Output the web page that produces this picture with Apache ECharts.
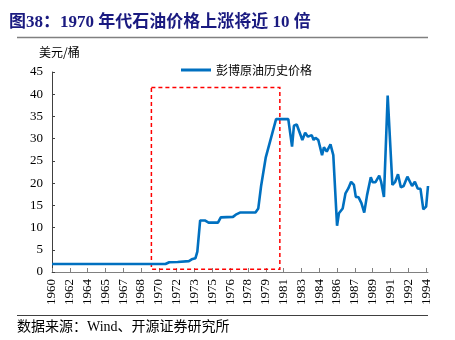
<!DOCTYPE html>
<html>
<head>
<meta charset="utf-8">
<script src="https://cdn.jsdelivr.net/npm/echarts@6/dist/echarts.min.js"></script>
<style>
html,body{margin:0;padding:0;background:#fff;}
#chart{width:455px;height:340px;}
</style>
</head>
<body>
<div id="chart"></div>
<script>
// ---- data ----
var seriesName = '彭博原油历史价格';
var dates = ['1960-12','1971-01','1971-05','1972-02','1972-04','1973-02','1973-05','1973-09','1973-11','1974-02',
  '1974-07','1974-11','1975-09','1975-12','1977-01','1977-04','1977-09','1979-01','1979-04','1979-07',
  '1979-09','1979-12','1980-11','1981-12','1982-04','1982-06','1982-09','1983-03','1983-06','1983-09',
  '1984-01','1984-03','1984-05','1984-08','1984-10','1984-12','1985-02','1985-05','1985-09','1985-12',
  '1986-04','1986-06','1986-10','1987-01','1987-04','1987-07','1987-10','1987-12','1988-03','1988-06',
  '1988-09','1988-12','1989-04','1989-06','1989-09','1990-01','1990-03','1990-06','1990-10','1991-03',
  '1991-06','1991-09','1991-12','1992-03','1992-07','1992-09','1992-12','1993-03','1993-06','1993-09',
  '1993-12','1994-03','1994-05'];
var prices = [1.8,1.8,2.2,2.25,2.45,2.45,2.85,3.1,4.6,11.6,
  11.6,11.1,11.1,12.3,12.4,12.9,13.4,13.4,14.3,19.35,
  19.35,25.8,34.4,34.4,28.2,32.9,33.2,29.7,31.35,30.45,
  30.8,29.7,30.2,29.7,29.5,26.3,28.05,27.1,28.7,26.3,
  10.4,13.2,14.3,17.7,18.8,20.3,19.6,16.9,16.8,15.5,
  13.35,17.3,21.3,20.2,20.2,21.7,20.3,16.9,39.7,19.6,
  20.3,22.0,19.05,19.35,21.45,21.6,19.35,20.3,18.8,18.7,
  14.1,14.7,19.35];
var xTickLabels = ['1960','1962','1964','1965','1967','1968','1970','1972','1973','1975','1976',
  '1978','1979','1981','1983','1984','1986','1987','1989','1991','1992','1994'];
var startDate = '1960-12';
var endDate = '1994-05';
var labelStepMonths = 19;
var yTicks = [0,5,10,15,20,25,30,35,40,45];
var boxDates = ['1969-10','1981-03'];
var boxValues = [41.5, 0.6];

// ---- helpers ----
function monthIdx(s){
  var p = s.split('-');
  var s0 = startDate.split('-');
  return (parseInt(p[0],10)-parseInt(s0[0],10))*12 + (parseInt(p[1],10)-parseInt(s0[1],10));
}
var lineData = dates.map(function(d,i){ return [monthIdx(d), prices[i]]; });
var tickPos = xTickLabels.map(function(l,i){ return i*labelStepMonths; });

var serif = '"Liberation Serif","Times New Roman",serif';
var cjk = '"Liberation Serif","Noto Sans CJK SC",serif';

var chart = echarts.init(document.getElementById('chart'), null, {renderer:'canvas'});
chart.setOption({
  animation:false,
  backgroundColor:'#fff',
  title:{
    text:'图38：1970 年代石油价格上涨将近 10 倍',
    left:4, top:9,
    textStyle:{fontFamily:cjk, fontSize:17, fontWeight:'bold', color:'#1a1a80'}
  },
  legend:{
    data:[seriesName],
    left:176, top:59,
    icon:'rect', itemWidth:30, itemHeight:3, itemGap:6,
    textStyle:{fontFamily:'"Noto Sans CJK SC",sans-serif', fontSize:12, color:'#000'}
  },
  grid:{left:52, right:27, top:72, bottom:68, containLabel:false},
  xAxis:{
    type:'value',
    min:monthIdx(startDate), max:monthIdx(endDate),
    interval:labelStepMonths,
    splitLine:{show:false},
    axisLine:{show:true, lineStyle:{color:'#808080', width:1}},
    axisTick:{show:true, inside:true, length:4, customValues:tickPos, lineStyle:{color:'#808080'}},
    axisLabel:{
      customValues:tickPos,
      rotate:90, margin:7,
      fontFamily:serif, fontSize:13, color:'#000',
      formatter:function(v){ var i=Math.round(v/labelStepMonths); return xTickLabels[i]||''; }
    }
  },
  yAxis:{
    type:'value',
    min:yTicks[0], max:yTicks[yTicks.length-1], interval:5,
    splitLine:{show:false},
    axisLine:{show:true, lineStyle:{color:'#404040', width:1}},
    axisTick:{show:true, inside:true, length:3, lineStyle:{color:'#404040'}},
    axisLabel:{margin:9, fontFamily:serif, fontSize:13, color:'#000'}
  },
  graphic:[
    {type:'line', shape:{x1:17,y1:37.5,x2:428,y2:37.5}, style:{stroke:'#808080', lineWidth:1.5}},
    {type:'text', left:39, top:46, style:{text:'美元/桶', font:'12px "Noto Sans CJK SC",sans-serif', fill:'#000'}},
    {type:'line', shape:{x1:17,y1:315.5,x2:428,y2:315.5}, style:{stroke:'#404040', lineWidth:1}},
    {type:'text', left:17, top:320, style:{text:'数据来源：Wind、开源证券研究所', font:'14px "Liberation Serif","Noto Sans CJK SC",serif', fill:'#000'}}
  ],
  series:[{
    name:seriesName,
    type:'line',
    data:lineData,
    showSymbol:false, symbol:'none',
    lineStyle:{color:'#0070C0', width:2.6},
    itemStyle:{color:'#0070C0'},
    markArea:{
      silent:true,
      itemStyle:{color:'rgba(0,0,0,0)', borderColor:'#FF0000', borderWidth:1.5, borderType:[4,3]},
      data:[[{xAxis:monthIdx(boxDates[0]), yAxis:boxValues[0]},{xAxis:monthIdx(boxDates[1]), yAxis:boxValues[1]}]]
    }
  }]
});
</script>
</body>
</html>
